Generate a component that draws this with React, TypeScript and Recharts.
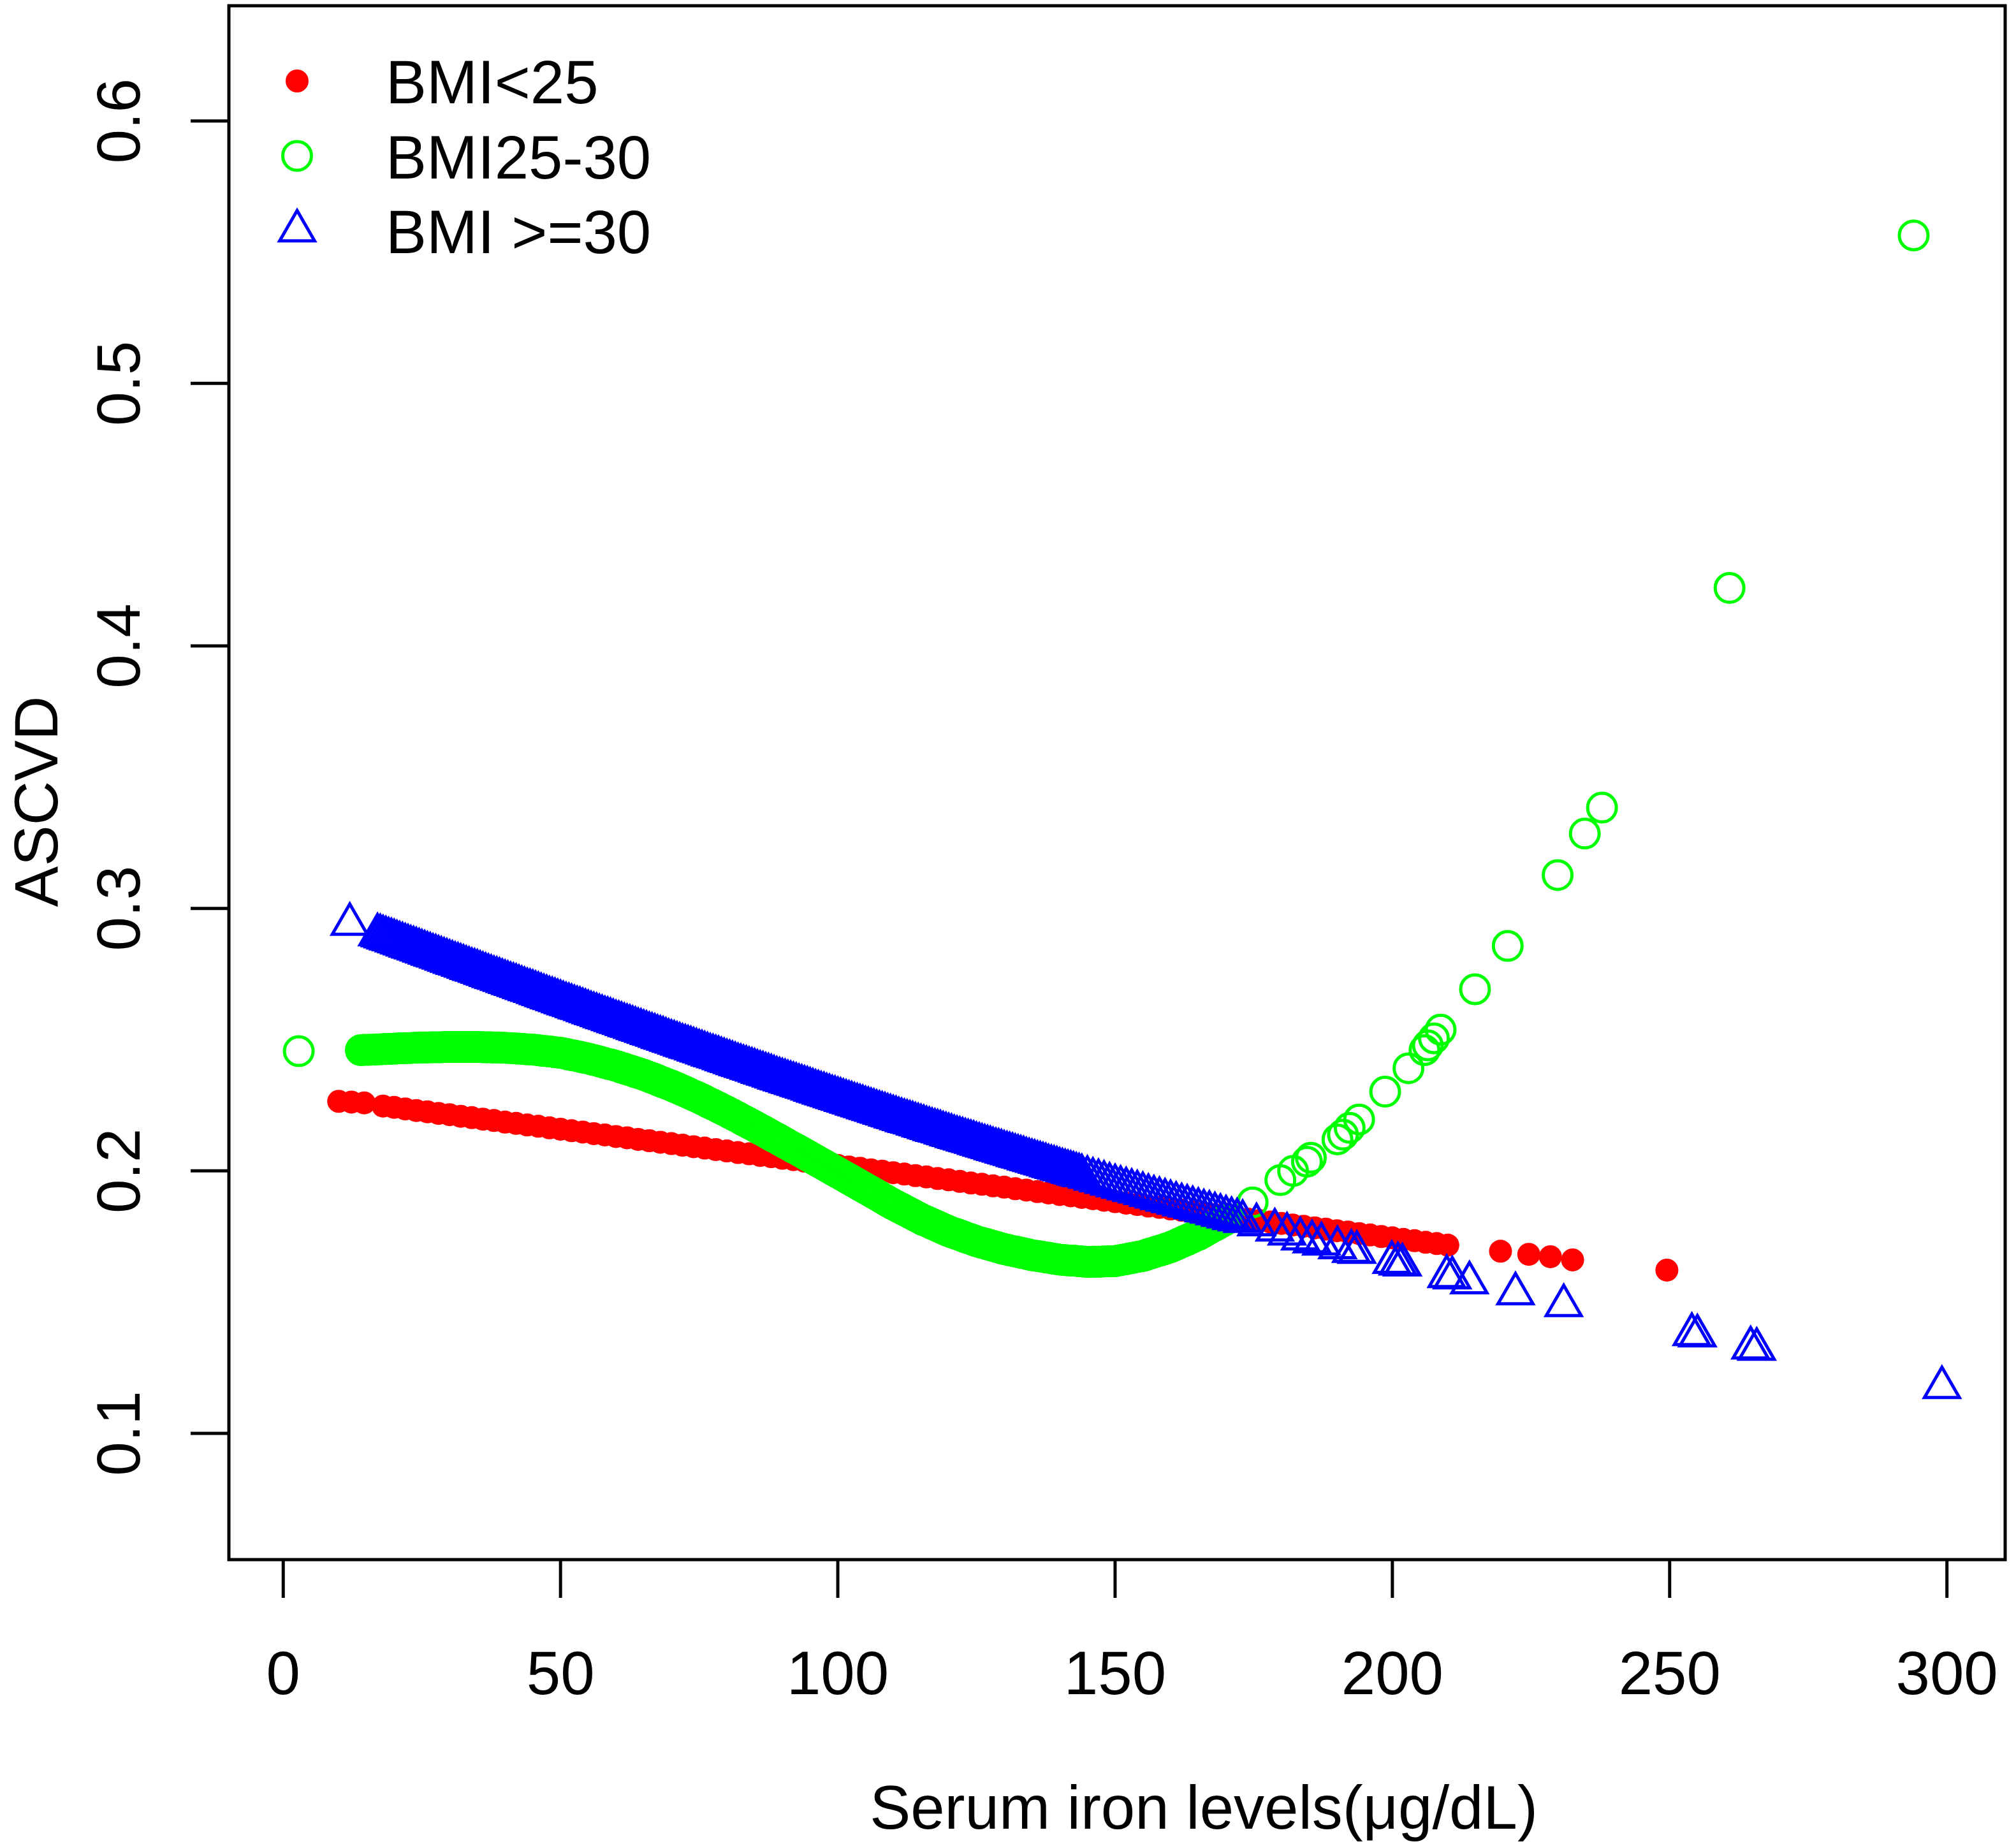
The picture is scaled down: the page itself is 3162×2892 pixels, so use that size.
import { ScatterChart, Scatter, XAxis, YAxis, Label, Legend, ReferenceArea } from "recharts";

// serum iron (µg/dL) and predicted ASCVD
const lowIron = [
  10, 12.3, 14.6,
  18, 20, 22, 24, 26, 28, 30, 32, 34, 36, 38, 40, 42, 44, 46, 48, 50, 52, 54, 56, 58, 60,
  62, 64, 66, 68, 70, 72, 74, 76, 78, 80, 82, 84, 86, 88, 90, 92, 94, 96, 98, 100, 102, 104,
  106, 108, 110, 112, 114, 116, 118, 120, 122, 124, 126, 128, 130, 132, 134, 136, 138, 140,
  142, 144, 146, 148, 150, 152, 154, 156, 158, 160, 162, 164, 166, 168, 170, 172, 174, 176,
  178, 180, 182, 184, 186, 188, 190, 192, 194, 196, 198, 200, 202, 204, 206, 208, 210,
  219.5, 224.6, 228.5, 232.5, 249.5,
];
const lowRisk = [
  0.2265, 0.2262, 0.2259,
  0.2247, 0.2242, 0.2236, 0.223, 0.2225, 0.2219, 0.2214, 0.2208, 0.2203, 0.2197, 0.2192, 0.2186,
  0.2181, 0.2175, 0.217, 0.2164, 0.2159, 0.2153, 0.2148, 0.2142, 0.2137, 0.2131, 0.2126, 0.212,
  0.2115, 0.2109, 0.2104, 0.2098, 0.2092, 0.2087, 0.2081, 0.2076, 0.207, 0.2065, 0.2059, 0.2054,
  0.2048, 0.2043, 0.2037, 0.2032, 0.2026, 0.2021, 0.2015, 0.201, 0.2004, 0.1999, 0.1993, 0.1988,
  0.1982, 0.1977, 0.1971, 0.1966, 0.196, 0.1954, 0.1949, 0.1943, 0.1938, 0.1932, 0.1927, 0.1921,
  0.1916, 0.191, 0.1905, 0.1899, 0.1894, 0.1888, 0.1883, 0.1877, 0.1872, 0.1866, 0.1861, 0.1855,
  0.185, 0.1844, 0.1839, 0.1833, 0.1828, 0.1822, 0.1816, 0.1811, 0.1805, 0.18, 0.1794, 0.1789,
  0.1783, 0.1778, 0.1772, 0.1767, 0.1761, 0.1756, 0.175, 0.1745, 0.1739, 0.1734, 0.1728, 0.1723,
  0.1717,
  0.1694, 0.1682, 0.1673, 0.1661, 0.1622,
];

const midIron = [
  2.8,
  14, 14.5, 15, 15.5, 16, 16.5, 17, 17.5, 18, 18.5, 19, 19.5, 20,
  20.5, 21, 21.5, 22, 22.5, 23, 23.5, 24, 24.5, 25,
  25.5, 26, 26.5, 27, 27.5, 28, 28.5, 29, 29.5, 30,
  30.5, 31, 31.5, 32, 32.5, 33, 33.5, 34, 34.5, 35,
  35.5, 36, 36.5, 37, 37.5, 38, 38.5, 39, 39.5, 40,
  40.5, 41, 41.5, 42, 42.5, 43, 43.5, 44, 44.5, 45,
  45.5, 46, 46.5, 47, 47.5, 48, 48.5, 49, 49.5, 50,
  50.5, 51, 51.5, 52, 52.5, 53, 53.5, 54, 54.5, 55,
  55.5, 56, 56.5, 57, 57.5, 58, 58.5, 59, 59.5, 60,
  60.5, 61, 61.5, 62, 62.5, 63, 63.5, 64, 64.5, 65,
  65.5, 66, 66.5, 67, 67.5, 68, 68.5, 69, 69.5, 70,
  70.5, 71, 71.5, 72, 72.5, 73, 73.5, 74, 74.5, 75,
  75.5, 76, 76.5, 77, 77.5, 78, 78.5, 79, 79.5, 80,
  80.5, 81, 81.5, 82, 82.5, 83, 83.5, 84, 84.5, 85,
  85.5, 86, 86.5, 87, 87.5, 88, 88.5, 89, 89.5, 90,
  90.5, 91, 91.5, 92, 92.5, 93, 93.5, 94, 94.5, 95,
  95.5, 96, 96.5, 97, 97.5, 98, 98.5, 99, 99.5, 100,
  100.5, 101, 101.5, 102, 102.5, 103, 103.5, 104, 104.5, 105,
  105.5, 106, 106.5, 107, 107.5, 108, 108.5, 109, 109.5, 110,
  110.5, 111, 111.5, 112, 112.5, 113, 113.5, 114, 114.5, 115,
  115.5, 116, 116.5, 117, 117.5, 118, 118.5, 119, 119.5, 120,
  120.5, 121, 121.5, 122, 122.5, 123, 123.5, 124, 124.5, 125,
  125.5, 126, 126.5, 127, 127.5, 128, 128.5, 129, 129.5, 130,
  130.5, 131, 131.5, 132, 132.5, 133, 133.5, 134, 134.5, 135,
  135.5, 136, 136.5, 137, 137.5, 138, 138.5, 139, 139.5, 140,
  140.5, 141, 141.5, 142, 142.5, 143, 143.5, 144, 144.5, 145,
  145.5, 146, 146.5, 147, 147.5, 148, 148.5, 149, 149.5, 150,
  150.5, 151, 151.5, 152, 152.5, 153, 153.5, 154, 154.5, 155,
  155.5, 156, 156.5, 157, 157.5, 158, 158.5, 159, 159.5, 160,
  160.5, 161, 161.5, 162, 162.5, 163, 163.5, 164, 164.5, 165,
  165.5, 166, 166.5, 167, 167.5, 168, 168.5, 169, 169.5, 170,
  174.8, 179.8, 182.1, 184.6, 185.3, 190.1, 191.1, 192.3, 194.0, 198.7, 202.9,
  205.8, 206.4, 207.5, 208.7, 214.9, 220.8, 229.8, 234.7, 237.8, 260.8, 294.0,
];
const midRisk = [
  0.2456,
  0.246, 0.2461, 0.2461, 0.2461, 0.2462, 0.2462, 0.2463, 0.2463, 0.2464, 0.2464, 0.2465, 0.2465, 0.2466,
  0.2466, 0.2467, 0.2467, 0.2468, 0.2468, 0.2468, 0.2469, 0.2469, 0.247, 0.247,
  0.247, 0.247, 0.2471, 0.2471, 0.2471, 0.2471, 0.2471, 0.2472, 0.2472, 0.2472,
  0.2472, 0.2472, 0.2472, 0.2472, 0.2472, 0.2472, 0.2472, 0.2472, 0.2472, 0.2472,
  0.2472, 0.2471, 0.2471, 0.2471, 0.2471, 0.247, 0.247, 0.247, 0.2469, 0.2469,
  0.2468, 0.2468, 0.2467, 0.2466, 0.2466, 0.2465, 0.2464, 0.2463, 0.2463, 0.2462,
  0.2461, 0.246, 0.2458, 0.2457, 0.2456, 0.2455, 0.2454, 0.2452, 0.2451, 0.245,
  0.2448, 0.2446, 0.2443, 0.2441, 0.2439, 0.2437, 0.2435, 0.2432, 0.243, 0.2428,
  0.2425, 0.2422, 0.242, 0.2417, 0.2414, 0.2411, 0.2408, 0.2406, 0.2403, 0.24,
  0.2397, 0.2393, 0.239, 0.2386, 0.2383, 0.238, 0.2376, 0.2373, 0.2369, 0.2366,
  0.2362, 0.2358, 0.2354, 0.235, 0.2346, 0.2341, 0.2337, 0.2333, 0.2329, 0.2325,
  0.232, 0.2316, 0.2311, 0.2306, 0.2302, 0.2297, 0.2292, 0.2287, 0.2283, 0.2278,
  0.2273, 0.2268, 0.2262, 0.2257, 0.2252, 0.2247, 0.2242, 0.2236, 0.2231, 0.2226,
  0.222, 0.2215, 0.2209, 0.2204, 0.2198, 0.2192, 0.2187, 0.2181, 0.2176, 0.217,
  0.2164, 0.2158, 0.2153, 0.2147, 0.2141, 0.2135, 0.2129, 0.2124, 0.2118, 0.2112,
  0.2106, 0.21, 0.2094, 0.2088, 0.2083, 0.2077, 0.2071, 0.2065, 0.2059, 0.2053,
  0.2047, 0.2041, 0.2035, 0.2029, 0.2023, 0.2017, 0.2011, 0.2005, 0.1999, 0.1993,
  0.1987, 0.1981, 0.1975, 0.1969, 0.1963, 0.1957, 0.1951, 0.1945, 0.1939, 0.1933,
  0.1927, 0.1921, 0.1915, 0.1909, 0.1903, 0.1896, 0.189, 0.1884, 0.1878, 0.1872,
  0.1867, 0.1861, 0.1856, 0.185, 0.1845, 0.1839, 0.1834, 0.1828, 0.1823, 0.1817,
  0.1812, 0.1808, 0.1803, 0.1798, 0.1794, 0.1789, 0.1784, 0.1779, 0.1775, 0.177,
  0.1766, 0.1762, 0.1759, 0.1755, 0.1751, 0.1747, 0.1743, 0.174, 0.1736, 0.1732,
  0.1729, 0.1726, 0.1723, 0.172, 0.1717, 0.1714, 0.1711, 0.1708, 0.1705, 0.1702,
  0.17, 0.1697, 0.1695, 0.1693, 0.1691, 0.1688, 0.1686, 0.1684, 0.1681, 0.1679,
  0.1677, 0.1676, 0.1674, 0.1672, 0.167, 0.1669, 0.1667, 0.1665, 0.1664, 0.1662,
  0.1661, 0.166, 0.1659, 0.1658, 0.1658, 0.1657, 0.1656, 0.1655, 0.1654, 0.1653,
  0.1653, 0.1654, 0.1654, 0.1654, 0.1654, 0.1655, 0.1655, 0.1655, 0.1656, 0.1656,
  0.1658, 0.166, 0.1662, 0.1664, 0.1666, 0.1668, 0.167, 0.1672, 0.1674, 0.1676,
  0.1679, 0.1683, 0.1686, 0.1689, 0.1693, 0.1696, 0.1699, 0.1702, 0.1706, 0.1709,
  0.1714, 0.1718, 0.1723, 0.1728, 0.1733, 0.1737, 0.1742, 0.1747, 0.1752, 0.1756,
  0.1762, 0.1768, 0.1774, 0.178, 0.1786, 0.1791, 0.1797, 0.1803, 0.1809, 0.1815,
  0.188, 0.1965, 0.2, 0.2035, 0.205, 0.212, 0.2138, 0.2164, 0.2196, 0.2302, 0.2391,
  0.246, 0.2478, 0.2505, 0.2538, 0.2692, 0.2857, 0.3127, 0.3285, 0.3384, 0.4221, 0.5564,
];

const highIron = [
  12,
  17, 17.5, 18, 18.5, 19, 19.5, 20, 20.5, 21, 21.5,
  22, 22.5, 23, 23.5, 24, 24.5, 25, 25.5, 26, 26.5,
  27, 27.5, 28, 28.5, 29, 29.5, 30, 30.5, 31, 31.5,
  32, 32.5, 33, 33.5, 34, 34.5, 35, 35.5, 36, 36.5,
  37, 37.5, 38, 38.5, 39, 39.5, 40, 40.5, 41, 41.5,
  42, 42.5, 43, 43.5, 44, 44.5, 45, 45.5, 46, 46.5,
  47, 47.5, 48, 48.5, 49, 49.5, 50, 50.5, 51, 51.5,
  52, 52.5, 53, 53.5, 54, 54.5, 55, 55.5, 56, 56.5,
  57, 57.5, 58, 58.5, 59, 59.5, 60, 60.5, 61, 61.5,
  62, 62.5, 63, 63.5, 64, 64.5, 65, 65.5, 66, 66.5,
  67, 67.5, 68, 68.5, 69, 69.5, 70, 70.5, 71, 71.5,
  72, 72.5, 73, 73.5, 74, 74.5, 75, 75.5, 76, 76.5,
  77, 77.5, 78, 78.5, 79, 79.5, 80, 80.5, 81, 81.5,
  82, 82.5, 83, 83.5, 84, 84.5, 85, 85.5, 86, 86.5,
  87, 87.5, 88, 88.5, 89, 89.5, 90, 90.5, 91, 91.5,
  92, 92.5, 93, 93.5, 94, 94.5, 95, 95.5, 96, 96.5,
  97, 97.5, 98, 98.5, 99, 99.5, 100, 100.5, 101, 101.5,
  102, 102.5, 103, 103.5, 104, 104.5, 105, 105.5, 106, 106.5,
  107, 107.5, 108, 108.5, 109, 109.5, 110, 110.5, 111, 111.5,
  112, 112.5, 113, 113.5, 114, 114.5, 115, 115.5, 116, 116.5,
  117, 117.5, 118, 118.5, 119, 119.5, 120, 120.5, 121, 121.5,
  122, 122.5, 123, 123.5, 124, 124.5, 125, 125.5, 126, 126.5,
  127, 127.5, 128, 128.5, 129, 129.5, 130, 130.5, 131, 131.5,
  132, 132.5, 133, 133.5, 134, 134.5, 135, 135.5, 136, 136.5,
  137, 137.5, 138, 138.5, 139, 139.5, 140, 140.5, 141, 141.5,
  142, 142.5, 143, 143.5,
  144, 145, 146, 147, 148, 149, 150, 151, 152, 153,
  154, 155, 156, 157, 158, 159, 160, 161, 162, 163,
  164, 165, 166, 167, 168, 169, 170, 171, 172, 173,
  175.5, 178.8, 181, 183.4, 185.5, 187.2, 190.1, 192.6, 193.6, 199.9, 201.0,
  201.8, 209.8, 210.8, 213.9, 222.2, 230.9, 254.0, 255.0, 264.6, 265.7, 299.1,
];
const highRisk = [
  0.294,
  0.29, 0.2896, 0.2892, 0.2888, 0.2884, 0.2881, 0.2877, 0.2873, 0.2869, 0.2865,
  0.2861, 0.2857, 0.2853, 0.285, 0.2846, 0.2842, 0.2838, 0.2834, 0.283, 0.2826,
  0.2822, 0.2819, 0.2815, 0.2811, 0.2807, 0.2803, 0.2799, 0.2795, 0.2791, 0.2788,
  0.2784, 0.278, 0.2776, 0.2772, 0.2768, 0.2765, 0.2761, 0.2757, 0.2753, 0.2749,
  0.2745, 0.2741, 0.2737, 0.2734, 0.273, 0.2726, 0.2722, 0.2718, 0.2714, 0.2711,
  0.2707, 0.2703, 0.2699, 0.2695, 0.2691, 0.2688, 0.2684, 0.268, 0.2676, 0.2672,
  0.2668, 0.2664, 0.266, 0.2657, 0.2653, 0.2649, 0.2645, 0.2641, 0.2637, 0.2634,
  0.263, 0.2626, 0.2622, 0.2619, 0.2615, 0.2611, 0.2607, 0.2603, 0.2599, 0.2596,
  0.2592, 0.2588, 0.2584, 0.2581, 0.2577, 0.2573, 0.2569, 0.2566, 0.2562, 0.2558,
  0.2554, 0.2551, 0.2547, 0.2543, 0.2539, 0.2536, 0.2532, 0.2528, 0.2524, 0.2521,
  0.2517, 0.2513, 0.2509, 0.2506, 0.2502, 0.2498, 0.2494, 0.2491, 0.2487, 0.2483,
  0.2479, 0.2476, 0.2472, 0.2469, 0.2465, 0.2461, 0.2457, 0.2454, 0.245, 0.2446,
  0.2442, 0.2439, 0.2435, 0.2432, 0.2428, 0.2424, 0.242, 0.2417, 0.2413, 0.2409,
  0.2405, 0.2402, 0.2398, 0.2395, 0.2391, 0.2388, 0.2384, 0.238, 0.2376, 0.2373,
  0.2369, 0.2366, 0.2362, 0.2358, 0.2354, 0.2351, 0.2347, 0.2344, 0.234, 0.2337,
  0.2333, 0.233, 0.2326, 0.2323, 0.2319, 0.2316, 0.2312, 0.2308, 0.2304, 0.2301,
  0.2297, 0.2294, 0.229, 0.2287, 0.2283, 0.228, 0.2276, 0.2273, 0.2269, 0.2266,
  0.2262, 0.2259, 0.2255, 0.2252, 0.2248, 0.2245, 0.2241, 0.2238, 0.2234, 0.2231,
  0.2227, 0.2224, 0.222, 0.2217, 0.2213, 0.221, 0.2206, 0.2203, 0.2199, 0.2196,
  0.2192, 0.2189, 0.2186, 0.2183, 0.2179, 0.2176, 0.2172, 0.2169, 0.2165, 0.2162,
  0.2158, 0.2155, 0.2152, 0.2149, 0.2145, 0.2142, 0.2138, 0.2135, 0.2131, 0.2128,
  0.2125, 0.2122, 0.2118, 0.2115, 0.2112, 0.2109, 0.2105, 0.2102, 0.2098, 0.2095,
  0.2092, 0.2089, 0.2085, 0.2082, 0.2079, 0.2076, 0.2072, 0.2069, 0.2066, 0.2063,
  0.2059, 0.2056, 0.2053, 0.205, 0.2046, 0.2043, 0.204, 0.2037, 0.2033, 0.203,
  0.2027, 0.2024, 0.202, 0.2017, 0.2014, 0.2011, 0.2007, 0.2004, 0.2001, 0.1998,
  0.1995, 0.1992, 0.1988, 0.1985,
  0.1982, 0.1976, 0.1969, 0.1963, 0.1957, 0.195, 0.1944, 0.1938, 0.1932, 0.1926,
  0.192, 0.1914, 0.1907, 0.1901, 0.1895, 0.1889, 0.1883, 0.1877, 0.1871, 0.1866,
  0.186, 0.1854, 0.1848, 0.1843, 0.1837, 0.1831, 0.1825, 0.1819, 0.1814, 0.1808,
  0.1795, 0.1775, 0.176, 0.1741, 0.173, 0.1722, 0.1708, 0.1694, 0.169, 0.1652, 0.1646,
  0.1642, 0.1598, 0.1593, 0.1574, 0.1532, 0.1487, 0.1377, 0.1372, 0.1326, 0.1321, 0.1175,
];

const groupNames = ["BMI<25", "BMI25-30", "BMI >=30"];
const xTicks = [0, 50, 100, 150, 200, 250, 300];
const yTicks = [0.1, 0.2, 0.3, 0.4, 0.5, 0.6];

const X_DOMAIN = [-9.8, 310.5];
const Y_DOMAIN = [0.0519, 0.6439];

const FONT = "'Liberation Sans', Arial, Helvetica, sans-serif";
const FS = 96;
const RED = "#FF0000";
const GREEN = "#00FF00";
const BLUE = "#0000FF";
const LW = 5;

const toPoints = (xs: number[], ys: number[]) => xs.map((x, i) => ({ x, y: ys[i] }));

const dot = (cx: number, cy: number) => <circle cx={cx} cy={cy} r={18} fill={RED} />;
const ring = (cx: number, cy: number) => (
  <circle cx={cx} cy={cy} r={22.5} fill="none" stroke={GREEN} strokeWidth={LW} />
);
const tri = (cx: number, cy: number) => (
  <path
    d={`M${cx},${cy - 31.7}L${cx + 27.4},${cy + 15.85}L${cx - 27.4},${cy + 15.85}Z`}
    fill="none"
    stroke={BLUE}
    strokeWidth={LW}
  />
);

const XTick = ({ x, payload }: any) => (
  <text x={x} y={2657} textAnchor="middle" fontSize={FS} fontFamily={FONT} fill="#000">
    {payload.value}
  </text>
);

const YTick = ({ y, payload }: any) => (
  <text
    x={219}
    y={y}
    transform={`rotate(-90, 219, ${y})`}
    textAnchor="middle"
    fontSize={FS}
    fontFamily={FONT}
    fill="#000"
  >
    {payload.value}
  </text>
);

const legendRows = [dot, ring, tri];

const renderLegend = () => (
  <svg width={1200} height={450} style={{ display: "block" }}>
    {groupNames.map((name, i) => (
      <g key={name}>
        {legendRows[i](466, 127 + i * 117.5)}
        <text x={605} y={162 + i * 117.5} fontSize={FS} fontFamily={FONT} fill="#000">
          {name}
        </text>
      </g>
    ))}
  </svg>
);

export default function App() {
  return (
    <div style={{ position: "absolute", left: 0, top: 0, background: "#fff" }}>
      <ScatterChart
        width={3162}
        height={2892}
        margin={{ top: 9, right: 17, bottom: 0, left: 0 }}
        style={{ background: "#fff" }}
      >
        <XAxis
          type="number"
          dataKey="x"
          domain={X_DOMAIN}
          allowDataOverflow
          ticks={xTicks}
          height={446}
          axisLine={false}
          tickLine={{ stroke: "#000", strokeWidth: LW }}
          tickSize={60}
          tick={(p: any) => <XTick {...p} />}
          interval={0}
        >
          <Label
            content={() => (
              <text x={1888} y={2868} textAnchor="middle" fontSize={FS} fontFamily={FONT} fill="#000">
                Serum iron levels(μg/dL)
              </text>
            )}
          />
        </XAxis>
        <YAxis
          type="number"
          dataKey="y"
          domain={Y_DOMAIN}
          allowDataOverflow
          ticks={yTicks}
          width={359}
          axisLine={false}
          tickLine={{ stroke: "#000", strokeWidth: LW }}
          tickSize={60}
          tick={(p: any) => <YTick {...p} />}
          interval={0}
        >
          <Label
            content={() => (
              <text
                x={90}
                y={1257}
                transform="rotate(-90, 90, 1257)"
                textAnchor="middle"
                fontSize={FS}
                fontFamily={FONT}
                fill="#000"
              >
                ASCVD
              </text>
            )}
          />
        </YAxis>
        <ReferenceArea
          x1={X_DOMAIN[0]}
          x2={X_DOMAIN[1]}
          y1={Y_DOMAIN[0]}
          y2={Y_DOMAIN[1]}
          fill="none"
          stroke="#000"
          strokeWidth={LW}
          ifOverflow="visible"
        />
        <Legend
          layout="vertical"
          align="center"
          verticalAlign="middle"
          content={renderLegend}
          wrapperStyle={{ left: 0, top: 0, width: 1200, height: 450 }}
        />
        <Scatter
          name={groupNames[0]}
          data={toPoints(lowIron, lowRisk)}
          isAnimationActive={false}
          shape={(p: any) => dot(p.cx, p.cy)}
        />
        <Scatter
          name={groupNames[1]}
          data={toPoints(midIron, midRisk)}
          isAnimationActive={false}
          shape={(p: any) => ring(p.cx, p.cy)}
        />
        <Scatter
          name={groupNames[2]}
          data={toPoints(highIron, highRisk)}
          isAnimationActive={false}
          shape={(p: any) => tri(p.cx, p.cy)}
        />
      </ScatterChart>
    </div>
  );
}
